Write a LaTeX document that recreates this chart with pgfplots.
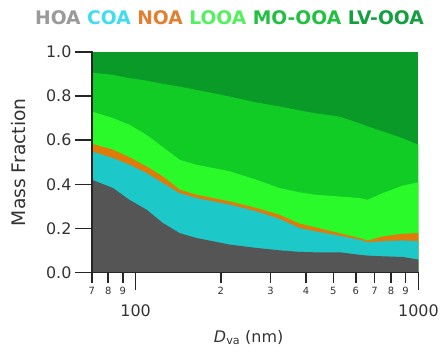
\documentclass[border=0pt]{standalone}
\usepackage{fontspec}
\setmainfont{DejaVu Sans}
\usepackage{pgfplots}
\usepackage{pgfplotstable}
\pgfplotsset{compat=1.18}
\definecolor{hoa}{HTML}{555555}
\definecolor{coa}{HTML}{1CC8C8}
\definecolor{noa}{HTML}{E07A08}
\definecolor{looa}{HTML}{2AFA2A}
\definecolor{mo}{HTML}{12CC26}
\definecolor{lv}{HTML}{0A9A28}
\definecolor{thoa}{HTML}{9A9A9A}
\definecolor{tcoa}{HTML}{40DDF0}
\definecolor{tnoa}{HTML}{E08030}
\definecolor{tlooa}{HTML}{55F060}
\definecolor{tmo}{HTML}{22C040}
\definecolor{tlv}{HTML}{14A040}
\definecolor{axc}{HTML}{262626}
\pgfplotstableread{
x hoa coa noa looa mo
70 0.421 0.549 0.584 0.730 0.906
83.2 0.383 0.519 0.557 0.700 0.896
95 0.330 0.489 0.523 0.670 0.881
109.3 0.285 0.451 0.481 0.624 0.870
124.7 0.225 0.406 0.436 0.569 0.855
143.1 0.179 0.360 0.376 0.511 0.843
163.9 0.157 0.338 0.353 0.489 0.828
215 0.127 0.308 0.323 0.459 0.798
267 0.112 0.278 0.293 0.421 0.771
323 0.101 0.243 0.262 0.383 0.753
380 0.094 0.202 0.222 0.364 0.735
432 0.092 0.187 0.205 0.353 0.722
526 0.092 0.167 0.179 0.345 0.707
618 0.081 0.149 0.157 0.338 0.677
662 0.077 0.137 0.145 0.330 0.662
747 0.074 0.142 0.164 0.360 0.640
879 0.071 0.146 0.176 0.394 0.609
1000 0.059 0.142 0.179 0.409 0.579
}\data
\begin{document}
\begin{tikzpicture}
\path (0,0) rectangle (442bp,353bp);
\begin{axis}[
  at={(92bp,80bp)}, anchor=south west,
  width=327bp, height=221bp, scale only axis,
  xmode=log, xmin=70, xmax=1000, ymin=0, ymax=1,
  axis lines=left, axis line style={-, line width=1.6bp, draw=axc},
  axis on top,
  tick align=outside,
  every tick/.append style={line width=1.6bp, draw=axc},
  major tick length=17bp,
  ytick={0,0.2,0.4,0.6,0.8,1.0},
  yticklabels={0.0,0.2,0.4,0.6,0.8,1.0},
  yticklabel style={font=\fontsize{16}{16}\selectfont, text=black!80},
  xtick={100,1000}, xticklabels={100,1000},
  xticklabel style={font=\fontsize{16}{16}\selectfont, text=black!80, yshift=-12bp},
  extra x ticks={70,80,90,200,300,400,500,600,700,800,900},
  extra x tick labels={7,8,9,2,3,4,5,6,7,8,9},
  extra x tick style={major tick length=10bp,
     xticklabel style={font=\fontsize{10}{10}\selectfont, yshift=11bp}},
  /pgf/number format/assume math mode=true,
  ylabel={Mass Fraction},
  ylabel style={font=\fontsize{18.8}{18.8}\selectfont, text=black!80, at={(axis description cs:-0.226,0.5)}, anchor=center},
  xlabel={\textit{D}\textsubscript{va} (nm)},
  xlabel style={font=\fontsize{16}{16}\selectfont, text=black!80, at={(axis description cs:0.48,0)}, anchor=north, yshift=-54bp},
  extra description/.code={
    \draw[line width=1.6bp, axc, line cap=rect] (rel axis cs:0,1) -- (rel axis cs:0,0) -- (rel axis cs:1,0);
    \foreach \yy in {0,0.2,0.4,0.6,0.8,1.0} {\draw[line width=1.6bp, axc] (axis cs:70,\yy) -- ([xshift=-17bp]axis cs:70,\yy);}
    \foreach \xx in {100,1000} {\draw[line width=1.6bp, axc] (axis cs:\xx,0) -- ([yshift=-17bp]axis cs:\xx,0);}
    \foreach \xx in {70,80,90,200,300,400,500,600,700,800,900} {\draw[line width=1.3bp, axc] (axis cs:\xx,0) -- ([yshift=-10bp]axis cs:\xx,0);}
  },
]
\addplot[fill=lv, draw opacity=0] coordinates {(70,1) (1000,1)} \closedcycle;
\addplot[fill=mo, draw opacity=0] table[x=x, y=mo] {\data} \closedcycle;
\addplot[fill=looa, draw opacity=0] table[x=x, y=looa] {\data} \closedcycle;
\addplot[fill=noa, draw opacity=0] table[x=x, y=noa] {\data} \closedcycle;
\addplot[fill=coa, draw opacity=0] table[x=x, y=coa] {\data} \closedcycle;
\addplot[fill=hoa, draw opacity=0] table[x=x, y=hoa] {\data} \closedcycle;
\end{axis}
\node[anchor=west, inner sep=0pt, font=\bfseries\fontsize{18.8}{18.8}\selectfont] at (35bp,335bp)
  {\textcolor{thoa}{HOA} \textcolor{tcoa}{COA} \textcolor{tnoa}{NOA} \textcolor{tlooa}{LOOA} \textcolor{tmo}{MO-OOA} \textcolor{tlv}{LV-OOA}};
\end{tikzpicture}
\end{document}
